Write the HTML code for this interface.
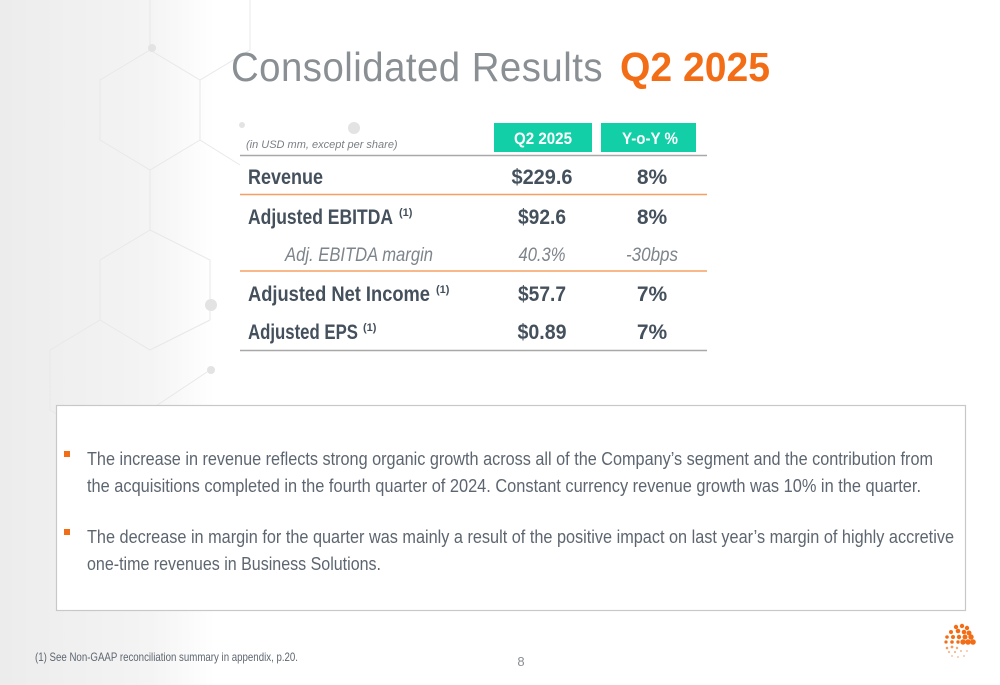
<!DOCTYPE html>
<html><head><meta charset="utf-8"><style>
html,body{margin:0;padding:0;background:#fff}
svg{display:block;font-family:"Liberation Sans",sans-serif}
</style></head><body>
<svg width="1000" height="685" viewBox="0 0 1000 685">
<defs>
<linearGradient id="bg" x1="0" x2="1" y1="0" y2="0">
<stop offset="0" stop-color="#ececec"/><stop offset="0.7" stop-color="#f4f4f4"/><stop offset="1" stop-color="#ffffff"/>
</linearGradient>
</defs>
<rect x="0" y="0" width="1000" height="685" fill="#fff"/>
<rect x="0" y="0" width="215" height="685" fill="url(#bg)"/>
<g stroke="#e8e8e8" stroke-width="1" fill="none">
<path d="M150 0 L150 50 L200 80 L250 50 L250 0 M200 80 L200 140 L240 165 M150 50 L100 80 L100 140 L150 170 L200 140 M150 170 L150 230 L100 260 L100 320 L150 350 L210 320 M150 230 L210 260 L210 320 M100 320 L50 350 L50 410 L100 440 L150 410 L210 370"/>
</g>
<g fill="#e3e3e3">
<circle cx="152" cy="48" r="4"/><circle cx="354" cy="128" r="6"/><circle cx="211" cy="305" r="6"/><circle cx="211" cy="370" r="4"/><circle cx="242" cy="125" r="3"/>
</g>

<text x="231" y="81" font-size="41" fill="#8a8f94" letter-spacing="0.5" textLength="372" lengthAdjust="spacingAndGlyphs">Consolidated Results</text>
<text x="620" y="81" font-size="41" font-weight="bold" fill="#f26d16" textLength="150" lengthAdjust="spacingAndGlyphs">Q2 2025</text>

<g>
<text x="246" y="148" font-size="11" font-style="italic" fill="#7a7f85">(in USD mm, except per share)</text>
<rect x="494" y="123" width="98" height="29" fill="#13cfa8"/>
<text x="543" y="144" font-size="17" font-weight="bold" fill="#fff" text-anchor="middle" textLength="58" lengthAdjust="spacingAndGlyphs">Q2 2025</text>
<rect x="601" y="123" width="95" height="29" fill="#13cfa8"/>
<text x="650" y="144" font-size="17" font-weight="bold" fill="#fff" text-anchor="middle" textLength="56" lengthAdjust="spacingAndGlyphs">Y-o-Y %</text>
<line x1="240" y1="155.5" x2="707" y2="155.5" stroke="#a8a8a8" stroke-width="1.5"/>

<g font-weight="bold" fill="#44505c" font-size="21">
<text x="248" y="184" textLength="75" lengthAdjust="spacingAndGlyphs">Revenue</text>
<text x="542" y="184" text-anchor="middle" textLength="61" lengthAdjust="spacingAndGlyphs">$229.6</text>
<text x="652" y="184" text-anchor="middle">8%</text>
</g>
<line x1="240" y1="194.5" x2="707" y2="194.5" stroke="#f5a060" stroke-width="1.5"/>

<g font-weight="bold" fill="#44505c" font-size="21">
<text x="248" y="224" textLength="145" lengthAdjust="spacingAndGlyphs">Adjusted EBITDA</text>
<text x="399" y="216" font-size="11">(1)</text>
<text x="542" y="224" text-anchor="middle" textLength="48" lengthAdjust="spacingAndGlyphs">$92.6</text>
<text x="652" y="224" text-anchor="middle">8%</text>
</g>
<g font-style="italic" fill="#7d848b" font-size="19">
<text x="285" y="261" textLength="148" lengthAdjust="spacingAndGlyphs">Adj. EBITDA margin</text>
<text x="542" y="261" text-anchor="middle" textLength="47" lengthAdjust="spacingAndGlyphs">40.3%</text>
<text x="652" y="261" text-anchor="middle" textLength="52" lengthAdjust="spacingAndGlyphs">-30bps</text>
</g>
<line x1="240" y1="271" x2="707" y2="271" stroke="#f5a060" stroke-width="1.5"/>

<g font-weight="bold" fill="#44505c" font-size="21">
<text x="248" y="301" textLength="182" lengthAdjust="spacingAndGlyphs">Adjusted Net Income</text>
<text x="436" y="293" font-size="11">(1)</text>
<text x="542" y="301" text-anchor="middle" textLength="48" lengthAdjust="spacingAndGlyphs">$57.7</text>
<text x="652" y="301" text-anchor="middle">7%</text>
<text x="248" y="339" textLength="110" lengthAdjust="spacingAndGlyphs">Adjusted EPS</text>
<text x="363" y="331" font-size="11">(1)</text>
<text x="542" y="339" text-anchor="middle" textLength="49" lengthAdjust="spacingAndGlyphs">$0.89</text>
<text x="652" y="339" text-anchor="middle">7%</text>
</g>
<line x1="240" y1="350.5" x2="707" y2="350.5" stroke="#a8a8a8" stroke-width="1.5"/>
</g>

<rect x="56.5" y="405.5" width="909" height="205" fill="#fff" stroke="#c8c8c8" stroke-width="1.2"/>
<g font-size="18" fill="#5d6670">
<rect x="64" y="451" width="6" height="6" fill="#f26d16"/>
<text x="87" y="465" textLength="846" lengthAdjust="spacingAndGlyphs">The increase in revenue reflects strong organic growth across all of the Company’s segment and the contribution from</text>
<text x="87" y="492" textLength="834" lengthAdjust="spacingAndGlyphs">the acquisitions completed in the fourth quarter of 2024. Constant currency revenue growth was 10% in the quarter.</text>
<rect x="64" y="529" width="6" height="6" fill="#f26d16"/>
<text x="87" y="543" textLength="867" lengthAdjust="spacingAndGlyphs">The decrease in margin for the quarter was mainly a result of the positive impact on last year’s margin of highly accretive</text>
<text x="87" y="570" textLength="294" lengthAdjust="spacingAndGlyphs">one-time revenues in Business Solutions.</text>
</g>

<text x="35" y="661" font-size="12" fill="#5d6670" textLength="263" lengthAdjust="spacingAndGlyphs">(1) See Non-GAAP reconciliation summary in appendix, p.20.</text>
<text x="521" y="666" font-size="13" fill="#8a8f94" text-anchor="middle">8</text>

<g fill="#f26d16">
<circle cx="956" cy="627" r="2.2"/><circle cx="962" cy="626" r="2.2"/><circle cx="967" cy="628" r="2.2"/>
<circle cx="951" cy="632" r="2"/><circle cx="958" cy="631" r="2.3"/><circle cx="964" cy="632" r="2.3"/><circle cx="969" cy="633" r="2.5"/>
<circle cx="947" cy="637" r="1.8"/><circle cx="953" cy="637" r="2"/><circle cx="959" cy="637" r="2.2"/><circle cx="965" cy="637" r="2.5"/><circle cx="971" cy="637" r="2.7"/>
<circle cx="946" cy="642" r="1.6"/><circle cx="952" cy="642" r="1.8"/><circle cx="958" cy="642" r="1.7"/><circle cx="963" cy="642" r="2.7"/><circle cx="968" cy="642" r="2.8"/><circle cx="973" cy="642" r="2.8"/>
<circle cx="947" cy="648" r="1.3" opacity="0.7"/><circle cx="952" cy="647" r="1.4" opacity="0.7"/><circle cx="957" cy="648" r="1.2" opacity="0.6"/>
<circle cx="949" cy="652" r="1.1" opacity="0.5"/><circle cx="955" cy="652" r="1.1" opacity="0.5"/><circle cx="961" cy="651" r="1" opacity="0.5"/><circle cx="967" cy="651" r="1" opacity="0.4"/>
<circle cx="952" cy="656" r="1" opacity="0.4"/><circle cx="958" cy="657" r="1" opacity="0.4"/><circle cx="964" cy="656" r="1" opacity="0.4"/>
</g>
</svg>
</body></html>
